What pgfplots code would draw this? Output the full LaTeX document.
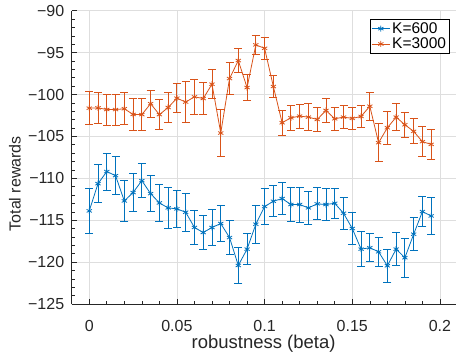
\documentclass[border=0pt]{standalone}
\usepackage{pgfplots}
\pgfplotsset{compat=1.18}
\usepackage{fontspec}
\setmainfont{Liberation Sans}
\definecolor{mblue}{rgb}{0,0.447,0.741}
\definecolor{morange}{rgb}{0.85,0.325,0.098}
\definecolor{axgray}{rgb}{0.15,0.15,0.15}
\definecolor{gridgray}{rgb}{0.87,0.87,0.87}
\begin{document}
\begin{tikzpicture}
\begin{axis}[
  at={(0pt,0pt)}, anchor=south west,
  scale only axis,
  width=385.8pt, height=293.3pt,
  xmin=-0.01, xmax=0.21, ymin=-125, ymax=-90,
  xtick={0,0.05,0.1,0.15,0.2},
  xticklabels={0,0.05,0.1,0.15,0.2},
  ytick={-125,-120,...,-90},
  yticklabels={−125,−120,−115,−110,−105,−100,−95,−90},
  minor tick num=4,
  tick align=inside,
  major tick length=5pt, minor tick length=3pt,
  axis x line*=bottom, axis y line*=left,
  axis line style={-, axgray, line width=0.7pt},
  every tick/.style={axgray, line width=0.6pt},
  grid=major,
  major grid style={gridgray, line width=0.8pt},
  /pgf/number format/assume math mode=true,
  tick label style={font=\fontsize{16}{16}\selectfont, text=axgray},
  yticklabel style={xshift=-4pt},
  xticklabel style={anchor=base, yshift=-28pt, inner sep=0.5pt},
  label style={text=axgray},
  xlabel={robustness (beta)},
  xlabel style={font=\fontsize{18.5}{18.5}\selectfont, at={(axis description cs:0.4974,0)}, anchor=base, yshift=-44.3pt, inner sep=0.5pt},
  ylabel={Total rewards},
  ylabel style={font=\fontsize{16}{16}\selectfont, at={(axis description cs:-0.1322,0.41)}, anchor=base, inner sep=0.5pt},
  legend style={at={(rel axis cs:0.979,0.971)}, anchor=north east,
    font=\fontsize{15.5}{15.5}\selectfont, draw=black, line width=0.6pt,
    inner sep=1pt, row sep=-1pt, cells={anchor=west}},
  legend image code/.code={\draw[mark repeat=2,mark phase=2] plot coordinates {(0pt,0pt) (9pt,0pt) (18pt,0pt)};},
  every axis plot/.append style={line width=0.8pt},
  error bars/y dir=both, error bars/y explicit,
  error bars/error mark options={rotate=90, mark size=4pt, line width=0.9pt},
  error bars/error bar style={line width=0.9pt},
]
\addplot[mblue, mark=asterisk, mark size=3pt, mark options={solid}] table[x=x, y=y, y error=e] {
x y e
0 -113.89 2.68
0.005 -110.64 2.3
0.01 -109.2 2.2
0.015 -109.68 2.28
0.02 -112.7 2.42
0.025 -111.7 2.24
0.03 -110.28 2.04
0.035 -111.83 2.18
0.04 -112.94 2.22
0.045 -113.53 2.4
0.05 -113.65 2.22
0.055 -114.05 2.24
0.06 -115.87 2.0
0.065 -116.47 2.06
0.07 -115.87 2.1
0.075 -115.4 2.1
0.08 -117.07 1.98
0.085 -120.4 2.14
0.09 -118.45 1.88
0.095 -115.48 2.26
0.1 -113.37 2.12
0.105 -112.74 1.87
0.11 -112.42 1.94
0.115 -113.13 2.04
0.12 -113.13 2.08
0.125 -113.53 1.96
0.13 -113.05 1.92
0.135 -113.13 1.88
0.14 -112.98 1.77
0.145 -114.17 1.88
0.15 -115.99 1.96
0.155 -118.45 2.12
0.16 -118.29 1.69
0.165 -118.77 1.73
0.17 -120.44 1.98
0.175 -118.45 2.0
0.18 -119.48 2.32
0.185 -116.67 1.94
0.19 -113.97 1.83
0.195 -114.49 2.18
};
\addlegendentry{K=600}
\addplot[morange, mark=asterisk, mark size=3pt, mark options={solid}] table[x=x, y=y, y error=e] {
x y e
0 -101.63 2.0
0.005 -101.6 1.9
0.01 -101.79 1.85
0.015 -101.8 1.85
0.02 -101.7 1.9
0.025 -102.38 1.9
0.03 -102.4 1.9
0.035 -101.1 1.6
0.04 -102.4 1.8
0.045 -101.55 1.8
0.05 -100.44 1.75
0.055 -100.9 2.4
0.06 -100.28 2.1
0.065 -100.48 1.95
0.07 -98.77 1.75
0.075 -104.6 2.85
0.08 -98.1 1.9
0.085 -95.95 1.45
0.09 -99.17 1.6
0.095 -94.08 1.15
0.1 -94.49 1.35
0.105 -99.05 1.27
0.11 -103.37 1.5
0.115 -102.78 1.5
0.12 -102.58 1.43
0.125 -102.7 1.6
0.13 -102.98 1.47
0.135 -101.9 1.4
0.14 -102.9 1.35
0.145 -102.7 1.37
0.15 -102.85 1.27
0.155 -102.62 1.35
0.16 -101.4 1.7
0.165 -105.75 2.28
0.17 -103.97 1.98
0.175 -102.7 1.59
0.18 -103.61 1.47
0.185 -104.4 1.5
0.19 -105.63 1.79
0.195 -105.95 1.83
};
\addlegendentry{K=3000}
\end{axis}
\pgfresetboundingbox
\useasboundingbox (-71.7pt,-54pt) rectangle (384.3pt,304pt);
\end{tikzpicture}
\end{document}
